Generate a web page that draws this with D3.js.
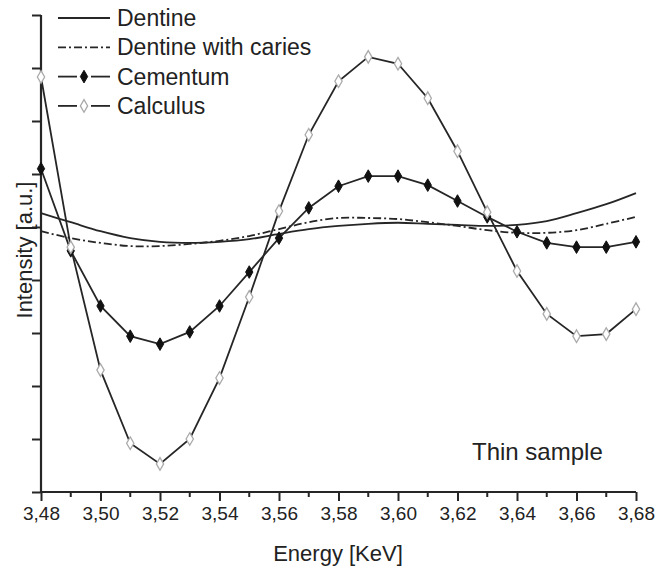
<!DOCTYPE html>
<html>
<head>
<meta charset="utf-8">
<script src="https://cdn.jsdelivr.net/npm/d3@7"></script>
<style>
  body { margin: 0; background: #fff; }
  text { font-family: "Liberation Sans", Arial, sans-serif; fill: #222; }
</style>
</head>
<body>
<svg id="chart" width="667" height="569"></svg>
<script>
// energies (KeV), one sample every 0.01
var energy = [3.48, 3.49, 3.50, 3.51, 3.52, 3.53, 3.54, 3.55, 3.56, 3.57, 3.58,
              3.59, 3.60, 3.61, 3.62, 3.63, 3.64, 3.65, 3.66, 3.67, 3.68];

// intensities in arbitrary units
var dentine = [5.26, 5.09, 4.92, 4.79, 4.72, 4.70, 4.72, 4.77, 4.87, 4.96, 5.02,
               5.06, 5.08, 5.06, 5.04, 5.02, 5.04, 5.11, 5.26, 5.43, 5.64];
var caries  = [4.92, 4.79, 4.70, 4.64, 4.64, 4.68, 4.74, 4.83, 4.96, 5.09, 5.17,
               5.17, 5.15, 5.09, 5.02, 4.94, 4.89, 4.89, 4.94, 5.06, 5.19];
var cementum = [6.1, 4.55, 3.51, 2.94, 2.79, 3.02, 3.51, 4.15, 4.79, 5.36, 5.77,
                5.96, 5.96, 5.79, 5.49, 5.19, 4.91, 4.70, 4.62, 4.62, 4.72];
var calculus = [7.83, 4.62, 2.30, 0.92, 0.53, 1.00, 2.15, 3.68, 5.30, 6.74, 7.75,
                8.21, 8.08, 7.43, 6.43, 5.28, 4.17, 3.36, 2.94, 2.98, 3.45];

var xTicks = [3.48, 3.50, 3.52, 3.54, 3.56, 3.58, 3.60, 3.62, 3.64, 3.66, 3.68];
var xMinor = [3.49, 3.51, 3.53, 3.55, 3.57, 3.59, 3.61, 3.63, 3.65, 3.67];
var yTicks = [0, 1, 2, 3, 4, 5, 6, 7, 8, 9];

var legendNames = ["Dentine", "Dentine with caries", "Cementum", "Calculus"];

var LINE_COLOR = "#262626";
var DASH_DOT = "8,3,2,3";
var svg = d3.select("#chart");

var x = d3.scaleLinear().domain([3.48, 3.68]).range([41, 636]);
var y = d3.scaleLinear().domain([0, 9]).range([492, 15]);

// axes
var fmt = function (d) { return d3.format(".2f")(d).replace(".", ","); };

var xAxis = svg.append("g")
    .attr("transform", "translate(0," + y(0) + ")")
    .call(d3.axisBottom(x).tickValues(xTicks).tickFormat(fmt).tickSize(9).tickPadding(6));
xAxis.append("g").selectAll("line.minor")
    .data(xMinor)
    .enter().append("line")
    .attr("class", "minor")
    .attr("x1", function (d) { return x(d); })
    .attr("x2", function (d) { return x(d); })
    .attr("y1", 0)
    .attr("y2", 5)
    .attr("stroke", LINE_COLOR)
    .attr("stroke-width", 2);

var yAxis = svg.append("g")
    .attr("transform", "translate(" + x(3.48) + ",0)")
    .call(d3.axisLeft(y).tickValues(yTicks).tickFormat("").tickSize(9));

svg.selectAll(".domain")
    .attr("stroke", LINE_COLOR)
    .attr("stroke-width", 2.2);
svg.selectAll(".tick line")
    .attr("stroke", LINE_COLOR)
    .attr("stroke-width", 2);
xAxis.selectAll(".tick text")
    .style("font-size", "19px")
    .attr("fill", "#333");
// keep the domain paths straight (no outer tick hooks)
xAxis.select(".domain").attr("d", "M" + x(3.48) + ",0H" + x(3.68));
yAxis.select(".domain").attr("d", "M0," + y(9) + "V" + y(0));

// axis titles
svg.append("text")
    .attr("x", 338)
    .attr("y", 561)
    .attr("text-anchor", "middle")
    .style("font-size", "22px")
    .text("Energy [KeV]");

svg.append("text")
    .attr("transform", "translate(32,250) rotate(-90)")
    .attr("text-anchor", "middle")
    .style("font-size", "22px")
    .text("Intensity [a.u.]");

svg.append("text")
    .attr("x", 472)
    .attr("y", 460)
    .style("font-size", "24px")
    .text("Thin sample");

// series
function pts(vals) {
    return vals.map(function (v, i) { return [energy[i], v]; });
}

var smooth = d3.line()
    .x(function (d) { return x(d[0]); })
    .y(function (d) { return y(d[1]); })
    .curve(d3.curveCatmullRom);
var straight = d3.line()
    .x(function (d) { return x(d[0]); })
    .y(function (d) { return y(d[1]); });

svg.append("path")
    .attr("d", smooth(pts(dentine)))
    .attr("fill", "none")
    .attr("stroke", LINE_COLOR)
    .attr("stroke-width", 1.8);

svg.append("path")
    .attr("d", smooth(pts(caries)))
    .attr("fill", "none")
    .attr("stroke", LINE_COLOR)
    .attr("stroke-width", 1.8)
    .attr("stroke-dasharray", DASH_DOT);

svg.append("path")
    .attr("d", straight(pts(cementum)))
    .attr("fill", "none")
    .attr("stroke", LINE_COLOR)
    .attr("stroke-width", 1.8);

svg.append("path")
    .attr("d", straight(pts(calculus)))
    .attr("fill", "none")
    .attr("stroke", LINE_COLOR)
    .attr("stroke-width", 1.8);

var diamond = d3.symbol().type(d3.symbolDiamond).size(46);

svg.append("g").selectAll("path")
    .data(pts(cementum))
    .enter().append("path")
    .attr("d", diamond)
    .attr("transform", function (d) { return "translate(" + x(d[0]) + "," + y(d[1]) + ")"; })
    .attr("fill", "#111")
    .attr("stroke", "#111")
    .attr("stroke-width", 1);

svg.append("g").selectAll("path")
    .data(pts(calculus))
    .enter().append("path")
    .attr("d", diamond)
    .attr("transform", function (d) { return "translate(" + x(d[0]) + "," + y(d[1]) + ")"; })
    .attr("fill", "#fff")
    .attr("stroke", "#aaa")
    .attr("stroke-width", 1.3);

// legend
var legend = svg.append("g");
legendNames.forEach(function (name, i) {
    var ly = 18 + i * 29.3;
    var g = legend.append("g").attr("transform", "translate(0," + ly + ")");
    if (i < 2) {
        g.append("line")
            .attr("x1", 58).attr("x2", 110)
            .attr("stroke", LINE_COLOR)
            .attr("stroke-width", 1.8)
            .attr("stroke-dasharray", i === 1 ? DASH_DOT : null);
    } else {
        g.append("line").attr("x1", 58).attr("x2", 77)
            .attr("stroke", LINE_COLOR).attr("stroke-width", 1.8);
        g.append("line").attr("x1", 91).attr("x2", 110)
            .attr("stroke", LINE_COLOR).attr("stroke-width", 1.8);
        g.append("path")
            .attr("d", diamond)
            .attr("transform", "translate(84,0)")
            .attr("fill", i === 2 ? "#111" : "#fff")
            .attr("stroke", i === 2 ? "#111" : "#aaa")
            .attr("stroke-width", i === 2 ? 1 : 1.3);
    }
    g.append("text")
        .attr("x", 117)
        .attr("y", 8)
        .style("font-size", "23px")
        .text(name);
});
</script>
</body>
</html>
